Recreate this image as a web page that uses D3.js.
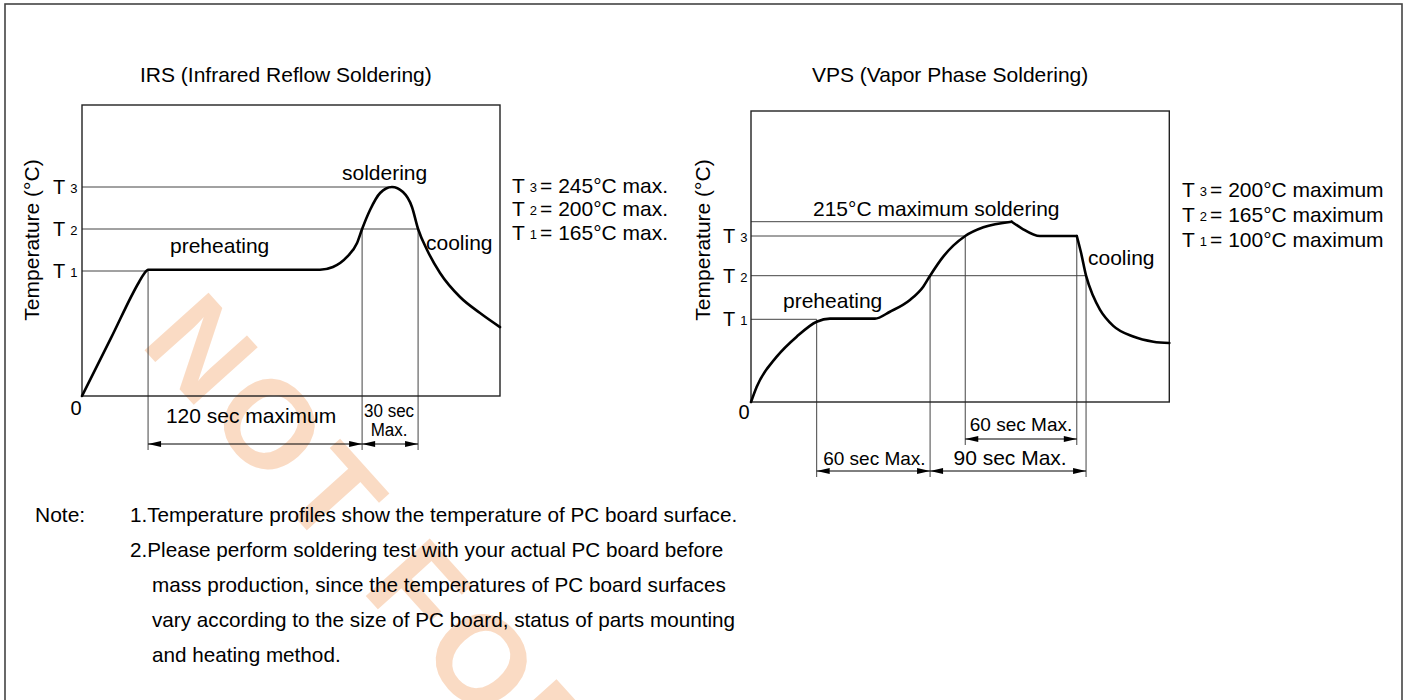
<!DOCTYPE html>
<html><head><meta charset="utf-8">
<script src="https://cdn.jsdelivr.net/npm/d3@7"></script>
<style>
body{margin:0;background:#fff}
svg{display:block}
text{font-family:"Liberation Sans",Arial,Helvetica,sans-serif;fill:#000}
.ref{stroke:#444;stroke-width:1;fill:none}
</style>
</head><body>
<svg id="c" width="1408" height="700"></svg>
<script>
// ---------------- DATA ----------------
// IRS profile (time in s, temperature in °C, schematic)
const irsTime = [0, 16, 31.7, 34.4, 36.7, 132.2, 139.4, 147.2, 152.8, 155.6, 160, 165.6, 172.2, 178.3, 183.3, 186.7, 191.7, 198.9, 210, 221.1, 232.2];
const irsTemp = [0, 76, 150.5, 161, 166, 166, 168.3, 176.7, 188.3, 200, 220.4, 238.6, 245, 239.6, 223.6, 200, 182.5, 162.4, 130.7, 109.6, 91];
const irsLevels = [165, 200, 245];          // T1, T2, T3
const irsLevelEnds = [36.7, 186.7, 172.2];  // where each level line meets the curve
const irsGuideTimes = [36.7, 155.6, 186.7];
const irsGuideLevels = [165, 200, 200];
const irsSpanStart = [36.7, 155.6];
const irsSpanEnd = [155.6, 186.7];
const irsSpanLabels = ["120 sec maximum", "30 sec|Max."];

// VPS profile
const vpsTime = [0, 3.1, 13.9, 24.7, 35.5, 42.7, 67, 75.1, 85.9, 93.1, 96.8, 103.9, 115.8, 125.6, 140.9, 146.3, 156.2, 176.1, 178.4, 181.1, 184.9, 188.6, 195.8, 206.6, 217.5, 226.1];
const vpsTemp = [0, 18.5, 54.8, 79, 97.1, 101, 101, 111.3, 128.8, 148.6, 165, 181.8, 200, 209.1, 215, 208.1, 200, 200, 185.2, 165, 135, 114.5, 92.1, 79.2, 72.9, 71.3];
const vpsBreaks = [14, 17];                 // sharp corners (peak, start of cooling)
const vpsLevels = [100, 165, 200];          // T1, T2, T3
const vpsLevelEnds = [35.5, 181.1, 115.8];
const vpsPeak = 215, vpsPeakTime = 140.9;
const vpsGuideTimes = [35.5, 96.8, 115.8, 176.1, 181.1];
const vpsGuideLevels = [100, 165, 200, 200, 165];
const vpsGuideRows = [0, 0, 1, 1, 0];
const vpsSpanStart = [35.5, 96.8, 115.8];
const vpsSpanEnd = [96.8, 181.1, 176.1];
const vpsSpanRows = [0, 0, 1];
const vpsSpanLabels = ["60 sec Max.", "90 sec Max.", "60 sec Max."];

const irsSpec = [245, 200, 165];
const vpsSpec = [200, 165, 100];
const notes = [
  "1.Temperature profiles show the temperature of PC board surface.",
  "2.Please perform soldering test with your actual PC board before",
  "mass production, since the temperatures of PC board surfaces",
  "vary according to the size of PC board, status of parts mounting",
  "and heating method."
];

// ---------------- DRAW ----------------
const svg = d3.select("#c");

// watermark (behind everything)
svg.append("text")
  .attr("transform", "translate(139,344) rotate(48)")
  .attr("font-size", 125).attr("font-weight", "bold").attr("letter-spacing", 8)
  .style("fill", "#fadbc4")
  .text("NOT FOR");

// outer frame
svg.append("rect").attr("x", 5).attr("y", 4).attr("width", 1397).attr("height", 730)
  .attr("fill", "none").attr("stroke", "#444").attr("stroke-width", 1.6);

function arrowHead(g, xTip, yy, dir) {
  const L = 13, H = 3;
  g.append("path")
    .attr("d", `M${xTip},${yy}L${xTip + dir * L},${yy - H}L${xTip + dir * L},${yy + H}Z`)
    .attr("fill", "#000");
}

function tLabel(g, xx, baseline, n, rest, big, small) {
  const t = g.append("text").attr("x", xx).attr("y", baseline).attr("font-size", big);
  t.append("tspan").text("T");
  t.append("tspan").attr("font-size", small).attr("dx", 5).attr("dy", -1).text(n);
  if (rest) t.append("tspan").attr("font-size", big).attr("dx", 3).attr("dy", 1).text(rest);
  return t;
}

function chart(o) {
  const g = svg.append("g");
  const x = d3.scaleLinear().domain(o.xDomain).range(o.xRange);
  const y = d3.scaleLinear().domain(o.yDomain).range(o.yRange);

  // level lines
  o.levels.forEach((v, i) => {
    g.append("line").attr("class", "ref")
      .attr("x1", x(0)).attr("x2", x(o.levelEnds[i]))
      .attr("y1", y(v)).attr("y2", y(v));
  });
  if (o.extraLevel) {
    g.append("line").attr("class", "ref")
      .attr("x1", x(0)).attr("x2", x(o.extraLevel[1]))
      .attr("y1", y(o.extraLevel[0])).attr("y2", y(o.extraLevel[0]));
  }
  // vertical guides
  o.guideTimes.forEach((t, i) => {
    const row = o.guideRows ? o.guideRows[i] : 0;
    g.append("line").attr("class", "ref")
      .attr("x1", x(t)).attr("x2", x(t))
      .attr("y1", y(o.guideLevels[i])).attr("y2", o.rowY[row] + 6);
  });
  // box
  g.append("rect").attr("x", x(o.xDomain[0])).attr("y", y(o.yDomain[o.yDomain.length - 1]))
    .attr("width", x(o.xDomain[1]) - x(o.xDomain[0]))
    .attr("height", y(0) - y(o.yDomain[o.yDomain.length - 1]))
    .attr("fill", "none").attr("stroke", "#222").attr("stroke-width", 1.4);

  // curve (split at sharp corners)
  const pts = o.time.map((t, i) => [t, o.temp[i]]);
  const cuts = [0, ...(o.breaks || []), pts.length - 1];
  const line = d3.line().x(d => x(d[0])).y(d => y(d[1])).curve(d3.curveMonotoneX);
  for (let k = 0; k < cuts.length - 1; k++) {
    g.append("path").attr("d", line(pts.slice(cuts[k], cuts[k + 1] + 1)))
      .attr("fill", "none").attr("stroke", "#000").attr("stroke-width", 2.6)
      .attr("stroke-linejoin", "round").attr("stroke-linecap", "round");
  }

  // dimension arrows
  o.spanStart.forEach((s, i) => {
    const row = o.spanRows ? o.spanRows[i] : 0;
    const yy = o.rowY[row];
    const a = x(s), b = x(o.spanEnd[i]);
    g.append("line").attr("x1", a).attr("x2", b).attr("y1", yy).attr("y2", yy)
      .attr("stroke", "#000").attr("stroke-width", 1);
    arrowHead(g, a, yy, 1);
    arrowHead(g, b, yy, -1);
    const lab = o.spanLabels[i];
    const cx = (a + b) / 2 + (o.labelShift ? o.labelShift[i] : 0);
    if (lab.includes("|")) {
      const parts = lab.split("|");
      parts.forEach((p, j) => {
        g.append("text").attr("x", cx - 1).attr("y", yy - 27 + j * 19)
          .attr("text-anchor", "middle").attr("font-size", 17)
          .attr("transform", `translate(0,${(yy - 27 + j * 19) * -0.12}) scale(1,1.12)`)
          .style("font-family", "'Liberation Sans Narrow','Arial Narrow',sans-serif")
          .text(p);
      });
    } else {
      g.append("text").attr("x", cx).attr("y", yy - o.labelLift[i])
        .attr("text-anchor", "middle").attr("font-size", o.labelSize[i]).text(lab);
    }
  });

  // left T labels
  o.levels.forEach((v, i) => {
    tLabel(g, o.tX, y(v) + 7, String(i + 1), null, 20, 13);
  });
  // zero
  g.append("text").attr("x", o.zero[0]).attr("y", o.zero[1]).attr("text-anchor", "middle")
    .attr("font-size", 20).text("0");
  // y title
  g.append("text").attr("transform", `translate(${o.yTitleX},240) rotate(-90)`)
    .attr("text-anchor", "middle").attr("dy", "0.35em").attr("font-size", 21)
    .text("Temperature (°C)");
  // chart title
  g.append("text").attr("x", o.titleX).attr("y", 82).attr("font-size", 21).text(o.title);
  // annotations
  o.notes.forEach(n => g.append("text").attr("x", n[0]).attr("y", n[1]).attr("font-size", 21).text(n[2]));
  // spec list
  o.spec.forEach((v, i) => {
    tLabel(g, o.specX, o.specY[i], String(3 - i), `= ${v}°C ${o.specWord}`, 21, 13);
  });
  return { x, y };
}

chart({
  title: "IRS (Infrared Reflow Soldering)", titleX: 140,
  xDomain: [0, 232.2], xRange: [82, 500],
  yDomain: [0, 165, 200, 245, 300], yRange: [396, 271, 229, 187, 105],
  time: irsTime, temp: irsTemp,
  levels: irsLevels, levelEnds: irsLevelEnds,
  guideTimes: irsGuideTimes, guideLevels: irsGuideLevels,
  rowY: [444],
  spanStart: irsSpanStart, spanEnd: irsSpanEnd, spanLabels: irsSpanLabels,
  labelLift: [21, 0], labelSize: [21, 19], labelShift: [-4, 0],
  tX: 53, zero: [76, 415], yTitleX: 32,
  notes: [[342, 180, "soldering"], [170, 253, "preheating"], [426, 250, "cooling"]],
  spec: irsSpec, specWord: "max.", specX: 512, specY: [193, 216, 240]
});

chart({
  title: "VPS (Vapor Phase Soldering)", titleX: 812,
  xDomain: [0, 226.1], xRange: [751, 1169.3],
  yDomain: [0, 100, 165, 200, 215, 300], yRange: [402, 319.3, 275.7, 236, 221.7, 111],
  time: vpsTime, temp: vpsTemp, breaks: vpsBreaks,
  levels: vpsLevels, levelEnds: vpsLevelEnds, extraLevel: [vpsPeak, vpsPeakTime],
  guideTimes: vpsGuideTimes, guideLevels: vpsGuideLevels, guideRows: vpsGuideRows,
  rowY: [471, 439],
  spanStart: vpsSpanStart, spanEnd: vpsSpanEnd, spanLabels: vpsSpanLabels, spanRows: vpsSpanRows,
  labelLift: [6, 6, 8], labelSize: [19, 21, 19], labelShift: [1, 2, 0],
  tX: 723, zero: [744, 419], yTitleX: 703,
  notes: [[813, 216, "215°C maximum soldering"], [783, 308, "preheating"], [1088, 265, "cooling"]],
  spec: vpsSpec, specWord: "maximum", specX: 1182, specY: [197, 222, 247]
});

// notes
svg.append("text").attr("x", 35).attr("y", 522).attr("font-size", 21).text("Note:");
const noteX = [130, 130, 152, 152, 152];
notes.forEach((s, i) => {
  svg.append("text").attr("x", noteX[i]).attr("y", 522 + i * 35).attr("font-size", 20.7).text(s);
});
</script>
</body></html>
